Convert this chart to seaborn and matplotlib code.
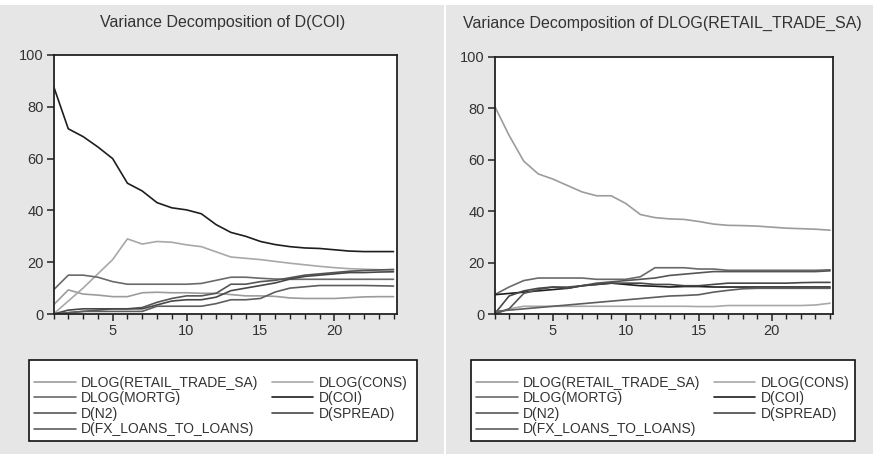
import numpy as np
import pandas as pd
import seaborn as sns
import matplotlib
matplotlib.use("Agg")
import matplotlib.pyplot as plt
from matplotlib.lines import Line2D

# forecast horizon (periods)
periods = list(range(1, 25))

series_names = ["DLOG(RETAIL_TRADE_SA)", "DLOG(CONS)", "DLOG(MORTG)", "D(COI)",
                "D(N2)", "D(SPREAD)", "D(FX_LOANS_TO_LOANS)"]

# Variance decomposition of D(COI)
coi_retail = [3.5, 9.3, 7.7, 7.3, 6.7, 6.7, 8.2, 8.4, 8.2, 8.2, 8.0, 8.0, 7.5, 7.0, 7.0, 6.8, 6.2, 6.0, 6.0, 6.0, 6.3, 6.6, 6.7, 6.7]
coi_cons = [0.0, 5.0, 10.0, 15.5, 21.0, 29.0, 27.0, 28.0, 27.7, 26.7, 26.0, 24.0, 22.0, 21.5, 21.0, 20.3, 19.6, 19.0, 18.4, 17.9, 17.5, 17.3, 17.1, 17.0]
coi_mortg = [9.3, 15.0, 15.0, 14.2, 12.5, 11.5, 11.5, 11.5, 11.5, 11.5, 11.8, 13.0, 14.2, 14.2, 13.8, 13.5, 13.4, 13.4, 13.4, 13.4, 13.4, 13.4, 13.4, 13.4]
coi_coi = [88.0, 71.5, 68.5, 64.5, 60.0, 50.5, 47.5, 43.0, 41.0, 40.2, 38.7, 34.5, 31.5, 30.0, 28.0, 26.8, 26.0, 25.5, 25.3, 24.8, 24.3, 24.1, 24.1, 24.1]
coi_n2 = [0.0, 0.5, 1.0, 1.5, 2.0, 2.0, 2.5, 4.5, 6.0, 7.0, 7.0, 8.0, 11.5, 11.5, 12.5, 13.0, 14.0, 15.0, 15.5, 16.0, 16.5, 16.8, 17.0, 17.2]
coi_spread = [0.0, 1.5, 2.0, 2.0, 2.0, 2.0, 2.0, 3.5, 5.0, 5.5, 5.5, 6.5, 9.0, 10.0, 11.0, 12.0, 13.5, 14.5, 15.0, 15.5, 16.0, 16.0, 16.2, 16.3]
coi_fx = [0.0, 0.5, 1.0, 1.0, 1.0, 1.0, 1.0, 3.0, 3.0, 3.0, 3.0, 4.0, 5.5, 5.5, 6.0, 8.5, 10.0, 10.5, 11.0, 11.0, 11.0, 11.0, 10.9, 10.8]

# Variance decomposition of DLOG(RETAIL_TRADE_SA)
rt_retail = [81.0, 69.5, 59.5, 54.5, 52.5, 50.0, 47.5, 46.0, 46.0, 43.0, 38.7, 37.5, 37.0, 36.8, 36.0, 35.0, 34.5, 34.4, 34.2, 33.8, 33.4, 33.2, 33.0, 32.6]
rt_cons = [0.0, 2.0, 3.0, 3.0, 3.0, 3.0, 3.0, 3.0, 3.0, 3.0, 3.0, 3.0, 3.0, 3.0, 2.9, 2.9, 3.3, 3.3, 3.3, 3.3, 3.3, 3.3, 3.5, 4.2]
rt_mortg = [7.5, 10.5, 13.0, 14.0, 14.0, 14.0, 14.0, 13.5, 13.5, 13.5, 14.5, 18.0, 18.0, 18.0, 17.5, 17.5, 17.0, 17.0, 17.0, 17.0, 17.0, 17.0, 17.0, 17.2]
rt_coi = [7.5, 8.0, 8.5, 9.0, 9.5, 10.0, 11.0, 11.5, 12.0, 11.5, 11.0, 10.8, 10.5, 10.7, 10.7, 10.5, 10.5, 10.5, 10.5, 10.5, 10.5, 10.5, 10.5, 10.5]
rt_n2 = [0.0, 2.0, 8.0, 9.5, 10.5, 10.5, 11.0, 12.0, 12.5, 13.0, 13.5, 14.0, 15.0, 15.5, 16.0, 16.5, 16.5, 16.5, 16.5, 16.5, 16.5, 16.5, 16.5, 16.8]
rt_spread = [0.0, 7.0, 9.0, 10.0, 10.5, 10.0, 11.0, 11.5, 12.0, 12.0, 12.0, 11.5, 11.5, 11.0, 11.0, 11.5, 12.0, 12.0, 12.0, 12.0, 12.0, 12.2, 12.3, 12.3]
rt_fx = [1.0, 1.5, 2.0, 2.5, 3.0, 3.5, 4.0, 4.5, 5.0, 5.5, 6.0, 6.5, 7.0, 7.2, 7.5, 8.5, 9.2, 9.8, 10.0, 10.0, 10.0, 10.0, 10.0, 10.0]

titles = ["Variance Decomposition of D(COI)",
          "Variance Decomposition of DLOG(RETAIL_TRADE_SA)"]

line_colors = {
    "DLOG(RETAIL_TRADE_SA)": "#9c9c9c",
    "DLOG(CONS)": "#a8a8a8",
    "DLOG(MORTG)": "#6a6a6a",
    "D(COI)": "#1e1e1e",
    "D(N2)": "#565656",
    "D(SPREAD)": "#474747",
    "D(FX_LOANS_TO_LOANS)": "#5e5e5e",
}


def long_frame(columns):
    rows = []
    for name, vals in zip(series_names, columns):
        for p, v in zip(periods, vals):
            rows.append({"period": p, "share": v, "shock": name})
    return pd.DataFrame(rows)


df_coi = long_frame([coi_retail, coi_cons, coi_mortg, coi_coi, coi_n2, coi_spread, coi_fx])
df_rt = long_frame([rt_retail, rt_cons, rt_mortg, rt_coi, rt_n2, rt_spread, rt_fx])

sns.set_theme(style="ticks")
plt.rcParams["font.family"] = ["Liberation Sans", "DejaVu Sans"]

W, H = 873, 454
bg = "#e6e6e6"
fig = plt.figure(figsize=(W / 100, H / 100), dpi=100, facecolor=bg)


def px_rect(x0, y0, x1, y1, **kw):
    """Rectangle given in pixel coordinates measured from the top-left corner."""
    return plt.Rectangle((x0 / W, 1 - y1 / H), (x1 - x0) / W, (y1 - y0) / H,
                         transform=fig.transFigure, **kw)


# thin white frame strips of the panel layout
fig.patches.append(px_rect(0, 0, W, 5, facecolor="white", edgecolor="none", zorder=0))
fig.patches.append(px_rect(444, 0, 446, H, facecolor="white", edgecolor="none", zorder=0))

axes_rects = [
    [53.5 / W, 1 - 314 / H, 343 / W, 259 / H],
    [494.5 / W, 1 - 314 / H, 338.5 / W, 257 / H],
]
legend_boxes = [(29, 360, 417, 441), (471, 360, 855, 441)]
title_x = [223 / W, 662 / W]

for df, rect, title, box, tx in zip([df_coi, df_rt], axes_rects, titles, legend_boxes, title_x):
    ax = fig.add_axes(rect)
    ax.set_facecolor("white")
    sns.lineplot(data=df, x="period", y="share", hue="shock", hue_order=series_names,
                 palette=line_colors, linewidth=1.2, legend=False, ax=ax)
    ax.set_xlim(1, 24.2)
    ax.set_ylim(0, 100)
    ax.set_xticks([5, 10, 15, 20])
    ax.set_xticks(periods, minor=True)
    ax.set_yticks([0, 20, 40, 60, 80, 100])
    ax.set_xlabel("")
    ax.set_ylabel("")
    for s in ax.spines.values():
        s.set_color("#222222")
        s.set_linewidth(1.3)
    ax.tick_params(axis="both", which="major", direction="out", length=5, width=1.1,
                   color="#222222", labelsize=10.5, labelcolor="#333333", pad=2)
    ax.tick_params(axis="x", which="minor", direction="out", length=3.5, width=1.0, color="#222222")
    ax.tick_params(axis="y", which="minor", left=False)
    fig.text(tx, 1 - 23 / H, title, ha="center", va="center", fontsize=11.5, color="#333333")

    # legend frame, then the entries inside it
    x0, y0, x1, y1 = box
    fig.patches.append(px_rect(x0, y0, x1, y1, facecolor="white", edgecolor="#111111",
                               linewidth=1.2, zorder=1))
    order = [0, 2, 4, 6, 1, 3, 5]
    handles = [Line2D([], [], color=line_colors[series_names[i]], linewidth=1.2) for i in order]
    labels = [series_names[i] for i in order]
    leg = fig.legend(handles, labels, loc="upper left",
                     bbox_to_anchor=((x0 + 5) / W, 1 - 375.5 / H),
                     bbox_transform=fig.transFigure, ncol=2, fontsize=10,
                     frameon=False, handlelength=3.0, handletextpad=0.4, columnspacing=0.95,
                     labelspacing=0.12, borderpad=0, borderaxespad=0)
    leg.set_zorder(2)
    for t in leg.get_texts():
        t.set_color("#333333")

fig.savefig("out.png", dpi=100, facecolor=bg)
